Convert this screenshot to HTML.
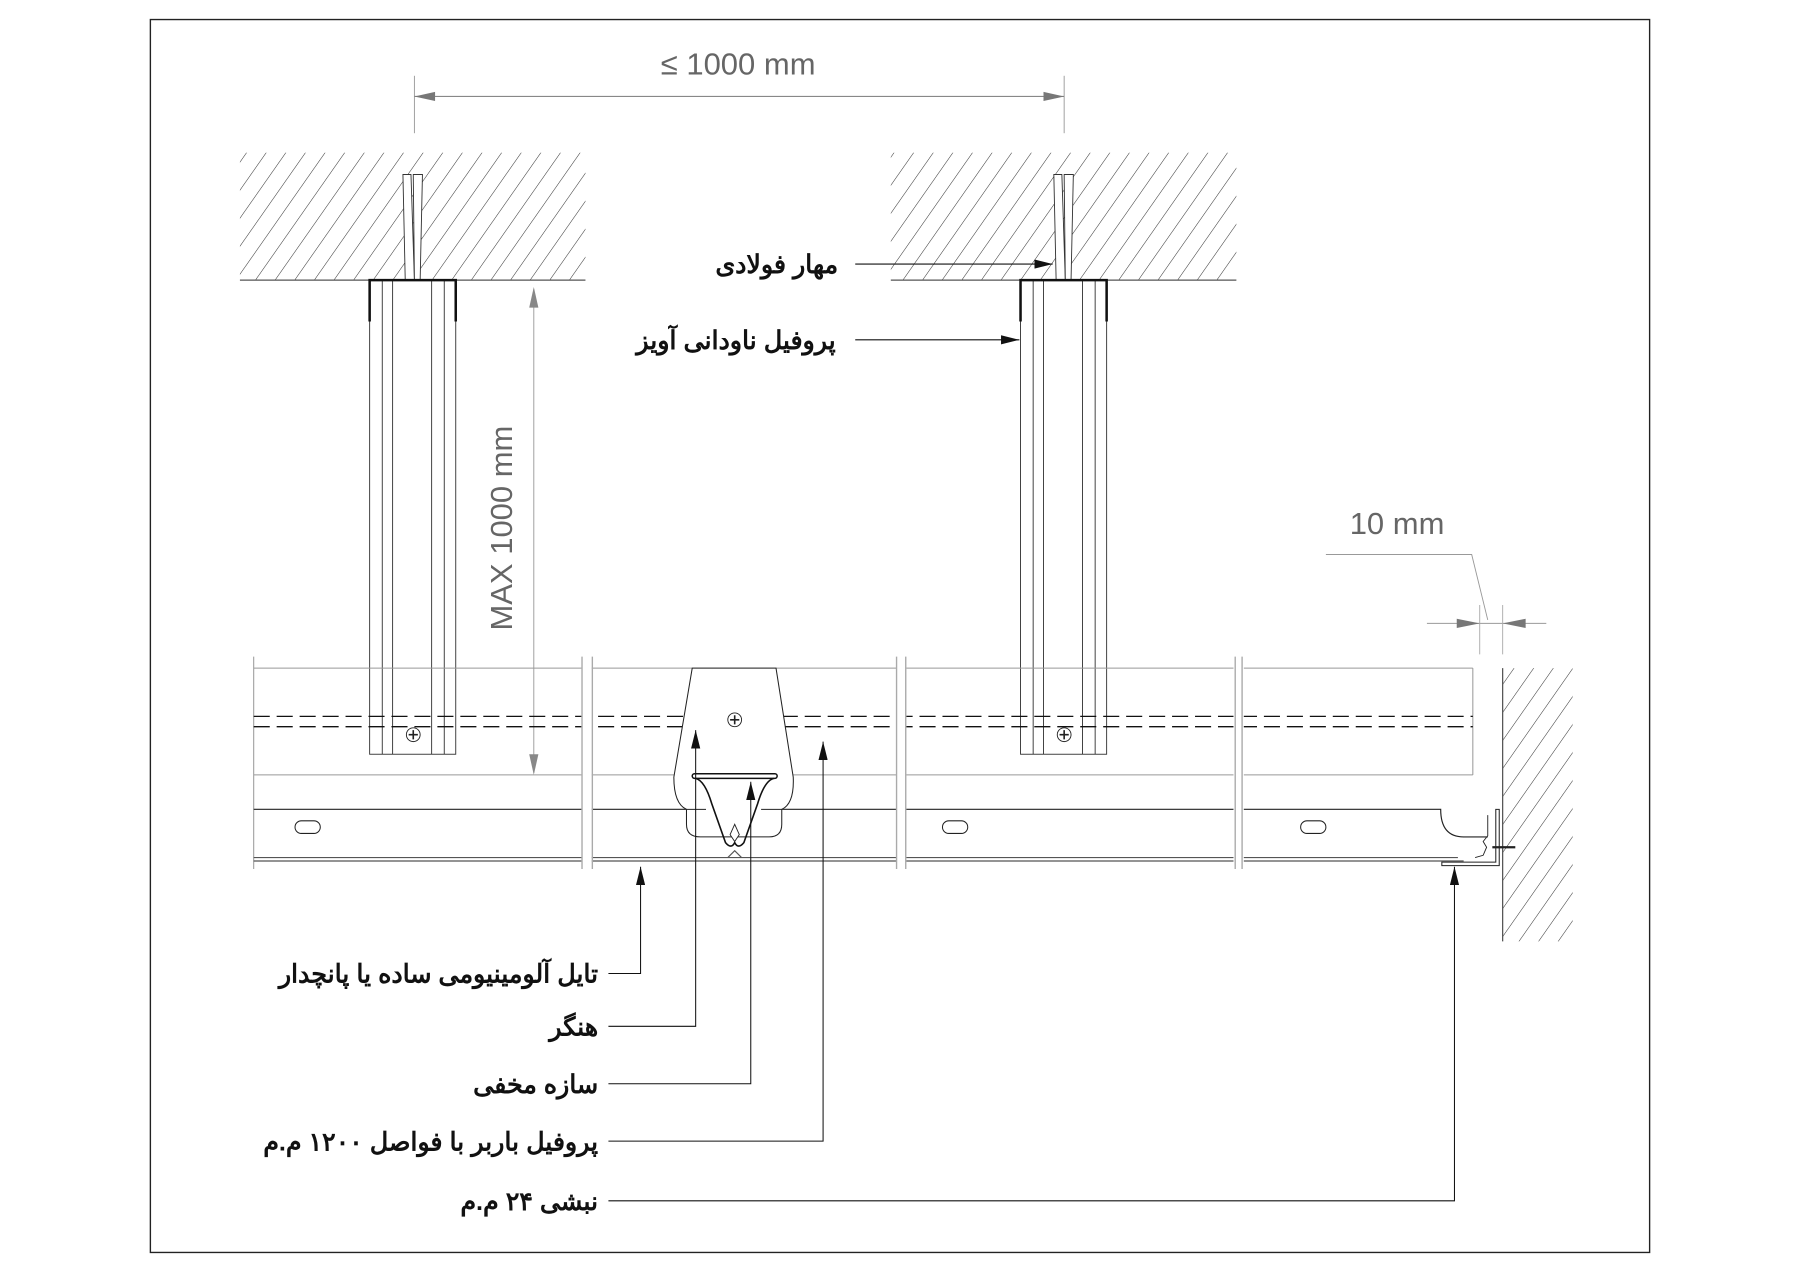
<!DOCTYPE html>
<html><head><meta charset="utf-8"><style>
html,body{margin:0;padding:0;background:#fff}
svg{display:block}
.lb{font-family:"Liberation Sans","Noto Sans CJK SC",sans-serif;font-weight:bold;font-size:22px;fill:#111}
.dm{font-family:"Liberation Sans",sans-serif;font-size:27px;fill:#666}
</style></head><body>
<svg width="1800" height="1272" viewBox="0 0 1568 1108" xmlns="http://www.w3.org/2000/svg">
<defs>
<pattern id="h" patternUnits="userSpaceOnUse" width="14" height="14" patternTransform="rotate(35)">
<line x1="0" y1="0" x2="0" y2="14" stroke="#333" stroke-width="0.9"/>
</pattern>
<marker id="ab" markerWidth="16" markerHeight="8" refX="16" refY="4" orient="auto" markerUnits="userSpaceOnUse"><path d="M0,0 L16,4 L0,8z" fill="#111"/></marker>
</defs>
<rect x="131" y="17" width="1306" height="1074" fill="none" stroke="#222" stroke-width="1.2"/>

<text class="dm" x="643" y="65" text-anchor="middle">≤ 1000 mm</text>
<line x1="361" y1="66" x2="361" y2="116" stroke="#999" stroke-width="0.8"/>
<line x1="927" y1="66" x2="927" y2="116" stroke="#999" stroke-width="0.8"/>
<line x1="361" y1="84" x2="927" y2="84" stroke="#888" stroke-width="1"/>
<path d="M361,84 L379,80 L379,88z" fill="#777"/>
<path d="M927,84 L909,80 L909,88z" fill="#777"/>

<rect x="209" y="133" width="301" height="111" fill="url(#h)"/>
<rect x="776" y="133" width="301" height="111" fill="url(#h)"/>
<line x1="209" y1="244" x2="510" y2="244" stroke="#555" stroke-width="1"/>
<line x1="776" y1="244" x2="1077" y2="244" stroke="#555" stroke-width="1"/>
<rect x="1309" y="582" width="61" height="238" fill="url(#h)"/>
<line x1="1309" y1="582" x2="1309" y2="820" stroke="#444" stroke-width="1"/>

<g fill="#fff" stroke="#333" stroke-width="0.8">
<path d="M351,152 L358,152 L361,244 L353,244z"/><path d="M360,152 L368,152 L366,244 L361,244z"/>
<rect x="347" y="244" width="22" height="7"/>
<path d="M918,152 L925,152 L928,244 L920,244z"/><path d="M927,152 L935,152 L933,244 L928,244z"/>
<rect x="914" y="244" width="22" height="7"/>
</g>

<g fill="none" stroke="#333" stroke-width="0.8">
<rect x="322" y="244" width="75" height="413" fill="#fff"/>
<line x1="333" y1="244" x2="333" y2="657"/><line x1="342" y1="244" x2="342" y2="657"/>
<line x1="376" y1="244" x2="376" y2="657"/><line x1="387" y1="244" x2="387" y2="657"/>
<rect x="889" y="244" width="75" height="413" fill="#fff"/>
<line x1="900" y1="244" x2="900" y2="657"/><line x1="909" y1="244" x2="909" y2="657"/>
<line x1="943" y1="244" x2="943" y2="657"/><line x1="954" y1="244" x2="954" y2="657"/>
</g>
<g stroke="#111" stroke-width="2.2" fill="none">
<path d="M322,280 L322,244 L397,244 L397,280"/>
<path d="M889,280 L889,244 L964,244 L964,280"/>
</g>

<line x1="465" y1="252" x2="465" y2="673" stroke="#999" stroke-width="0.8"/>
<path d="M465,250 L461,268 L469,268z" fill="#888"/>
<path d="M465,675 L461,657 L469,657z" fill="#888"/>
<text class="dm" transform="translate(446,460) rotate(-90)" text-anchor="middle">MAX 1000 mm</text>

<g stroke="#999" stroke-width="0.9" fill="none">
<line x1="221" y1="582" x2="1283" y2="582"/>
<line x1="221" y1="675" x2="1283" y2="675"/>
<line x1="1283" y1="582" x2="1283" y2="675"/>
<line x1="221" y1="572" x2="221" y2="757"/>
</g>
<g stroke="#111" stroke-width="1.1" fill="none" stroke-dasharray="14,6">
<line x1="221" y1="624" x2="1283" y2="624"/>
<line x1="221" y1="633" x2="1283" y2="633"/>
</g>
<path d="M221,705 L1255,705 Q1255,729 1275,729 L1296,729" stroke="#222" stroke-width="1" fill="none"/>
<line x1="221" y1="747" x2="1270" y2="747" stroke="#555" stroke-width="1"/>
<line x1="221" y1="750" x2="1275" y2="750" stroke="#555" stroke-width="1"/>
<g stroke="#fff" stroke-width="9"><line x1="511" y1="572" x2="511" y2="757"/><line x1="785" y1="572" x2="785" y2="757"/><line x1="1079" y1="572" x2="1079" y2="757"/></g>
<g stroke="#aaa" stroke-width="1.2">
<line x1="507" y1="572" x2="507" y2="757"/><line x1="516" y1="572" x2="516" y2="757"/>
<line x1="781" y1="572" x2="781" y2="757"/><line x1="789" y1="572" x2="789" y2="757"/>
<line x1="1076" y1="572" x2="1076" y2="757"/><line x1="1082" y1="572" x2="1082" y2="757"/>
</g>
<g fill="#fff" stroke="#222" stroke-width="0.9">
<rect x="257" y="715" width="22" height="11" rx="5.5"/>
<rect x="821" y="715" width="22" height="11" rx="5.5"/>
<rect x="1133" y="715" width="22" height="11" rx="5.5"/>
</g>
<path d="M1303,705 L1303,751 L1256,751 L1256,754 L1306,754 L1306,705z" fill="#fff" stroke="#222" stroke-width="0.9"/>
<path d="M1296,710 L1296,728 L1292,733 L1295,738 L1292,745 L1285,747" fill="none" stroke="#222" stroke-width="0.8"/>
<line x1="1300" y1="738" x2="1320" y2="738" stroke="#222" stroke-width="2"/>

<g fill="#fff" stroke="#222" stroke-width="0.8">
<circle cx="360" cy="640" r="6"/><circle cx="927" cy="640" r="6"/>
</g>
<g stroke="#222" stroke-width="1.4">
<path d="M356,640h8M360,636v8"/><path d="M923,640h8M927,636v8"/>
</g>

<path d="M603,582 L676,582 L691,677 Q692,700 681,705 L681,718 Q681,729 670,729 L610,729 Q598,729 598,718 L598,705 Q587,700 587,677 Z" fill="#fff" stroke="#222" stroke-width="0.9"/>
<path d="M598,705 L615,705 M663,705 L681,705" fill="none" stroke="#222" stroke-width="0.9"/>
<circle cx="640" cy="627" r="6" fill="#fff" stroke="#222" stroke-width="0.8"/>
<path d="M636,627h8M640,623v8" stroke="#222" stroke-width="1.4"/>
<rect x="603" y="674" width="74" height="4" rx="2" fill="#fff" stroke="#111" stroke-width="1.3"/>
<path d="M606,678 Q614,680 620,700 L632,734 Q637,740 640,734 Q643,740 648,734 L660,700 Q666,680 674,678" fill="none" stroke="#111" stroke-width="1.4"/>
<path d="M640,718 L636,727 L640,733 L644,727z" fill="#fff" stroke="#222" stroke-width="0.8"/>
<path d="M634,747 L640,741 L646,747" fill="none" stroke="#555" stroke-width="1"/>

<text class="dm" x="1217" y="465" text-anchor="middle">10 mm</text>
<path d="M1155,483 L1282,483 L1296,540" fill="none" stroke="#999" stroke-width="0.8"/>
<line x1="1243" y1="543" x2="1347" y2="543" stroke="#999" stroke-width="0.8"/>
<line x1="1289" y1="527" x2="1289" y2="570" stroke="#aaa" stroke-width="0.8"/>
<line x1="1309" y1="527" x2="1309" y2="570" stroke="#aaa" stroke-width="0.8"/>
<path d="M1289,543 L1269,539 L1269,547z" fill="#777"/>
<path d="M1309,543 L1329,539 L1329,547z" fill="#777"/>

<text class="lb" x="730" y="238" text-anchor="end">مهار فولادی</text>
<line x1="745" y1="230" x2="917" y2="230" stroke="#111" stroke-width="0.9" marker-end="url(#ab)"/>
<text class="lb" x="728" y="304" text-anchor="end">پروفیل ناودانی آویز</text>
<line x1="745" y1="296" x2="888" y2="296" stroke="#111" stroke-width="0.9" marker-end="url(#ab)"/>

<g stroke="#111" stroke-width="0.9" fill="none">
<path d="M530,848 L558,848 L558,755" marker-end="url(#ab)"/>
<path d="M530,894 L606,894 L606,636" marker-end="url(#ab)"/>
<path d="M530,944 L654,944 L654,681" marker-end="url(#ab)"/>
<path d="M530,994 L717,994 L717,646" marker-end="url(#ab)"/>
<path d="M530,1046 L1267,1046 L1267,755" marker-end="url(#ab)"/>
</g>
<text class="lb" x="521" y="856" text-anchor="end">تایل آلومینیومی ساده یا پانچدار</text>
<text class="lb" x="521" y="902" text-anchor="end">هنگر</text>
<text class="lb" x="521" y="952" text-anchor="end">سازه مخفی</text>
<text class="lb" x="521" y="1002" text-anchor="end">پروفیل باربر با فواصل ۱۲۰۰ م.م</text>
<text class="lb" x="521" y="1054" text-anchor="end">نبشی ۲۴ م.م</text>
</svg>
</body></html>
